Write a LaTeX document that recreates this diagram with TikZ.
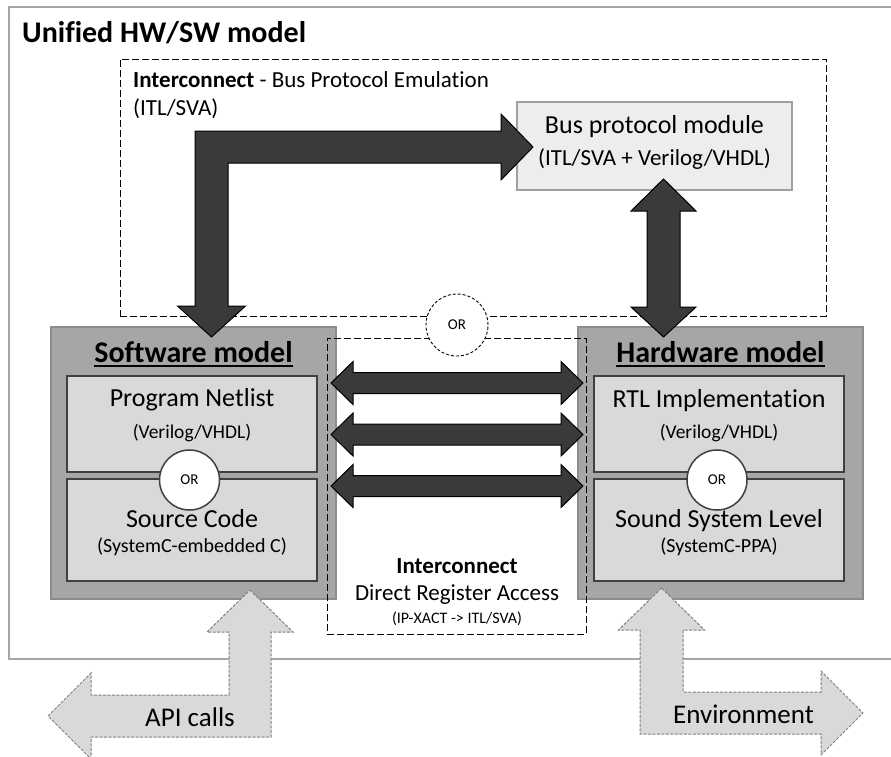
\documentclass[tikz,border=0pt]{standalone}
\usepackage{fontspec}
\setmainfont{Carlito}[Ligatures=NoCommon]
\usetikzlibrary{calc}

\definecolor{framegray}{HTML}{A6A6A6}
\definecolor{modelfill}{HTML}{A6A6A6}
\definecolor{modeledge}{HTML}{8C8C8C}
\definecolor{partfill}{HTML}{D9D9D9}
\definecolor{partedge}{HTML}{404040}
\definecolor{busfill}{HTML}{EDEDED}
\definecolor{busedge}{HTML}{A0A0A0}
\definecolor{arrowdark}{HTML}{3A3A3A}
\definecolor{lightfill}{HTML}{D9D9D9}
\definecolor{lightedge}{HTML}{808080}

\newcommand\fsz[1]{\fontsize{#1}{#1}\selectfont}

\tikzset{
  framebox/.style={draw=framegray, line width=1.5pt},
  dashbox/.style={draw=black, line width=0.9pt, dash pattern=on 7pt off 3pt, inner sep=0},
  modelbox/.style={draw=modeledge, fill=modelfill, line width=1.5pt, inner sep=0,
    minimum width=285pt, minimum height=272pt},
  partbox/.style={draw=partedge, fill=partfill, line width=1.5pt, inner sep=0,
    minimum width=250pt},
  orcircle/.style={circle, draw=partedge, fill=white, line width=1.5pt,
    minimum size=60pt, inner sep=0, font=\fsz{15}},
  orsel/.style={circle, draw=black, fill=white, line width=0.9pt,
    dash pattern=on 3pt off 2pt, minimum size=62pt, inner sep=0, font=\fsz{15}},
  busbox/.style={draw=busedge, fill=busfill, line width=1.5pt, inner sep=0},
  blockarrow/.style={fill=arrowdark, draw=black, line width=1pt, line join=miter},
  lightarrow/.style={fill=lightfill, draw=lightedge, line width=1pt,
    dash pattern=on 3pt off 1.5pt},
  lbl/.style={anchor=base, inner sep=0},
}

\begin{document}
\begin{tikzpicture}[x=1pt, y=-1pt]
\useasboundingbox (0,0) rectangle (891,756);
\clip (0,0) rectangle (891,756);

% outer frame of the unified model
\draw[framebox] (9,7) rectangle (910,659);
\node[lbl, anchor=base west, font=\fsz{30}\bfseries] (title) at (22,42) {Unified HW/SW model};

% bus protocol emulation region
\node[dashbox, minimum width=706pt, minimum height=257pt] (bpe) at (473,187.5) {};
\node[lbl, anchor=base west, font=\fsz{23}] (bpelbl) at (133,87)
  {\textbf{Interconnect} - Bus Protocol Emulation};
\node[lbl, anchor=base west, font=\fsz{23}] (bpelang) at (133,115) {(ITL/SVA)};

% software and hardware models
\node[modelbox] (sw) at (193.5,463) {};
\node[modelbox] (hw) at (720.5,463) {};

\node[partbox, minimum height=96pt] (swA) at (192,424) {};
\node[partbox, minimum height=102pt] (swB) at (192,530) {};
\node[partbox, minimum height=96pt] (hwA) at (719,424) {};
\node[partbox, minimum height=102pt] (hwB) at (719,530) {};

\node[orcircle] (swor) at (189.5,480) {OR};
\node[orcircle] (hwor) at (717,480) {OR};

\node[lbl, font=\fsz{30}\bfseries] (swt) at (193.5,362) {Software model};
\draw[line width=1.8pt] ([yshift=-4pt]swt.base west) -- ([yshift=-4pt]swt.base east);
\node[lbl, font=\fsz{30}\bfseries] (hwt) at (720.5,362) {Hardware model};
\draw[line width=1.8pt] ([yshift=-4pt]hwt.base west) -- ([yshift=-4pt]hwt.base east);

\node[lbl, font=\fsz{26}] (swA1) at (192,406) {Program Netlist};
\node[lbl, font=\fsz{19.5}] (swA2) at (192,438) {(Verilog/VHDL)};
\node[lbl, font=\fsz{26}] (swB1) at (192,527) {Source Code};
\node[lbl, font=\fsz{20}] (swB2) at (192,552) {(SystemC-embedded C)};

\node[lbl, font=\fsz{26}] (hwA1) at (719,407) {RTL Implementation};
\node[lbl, font=\fsz{19.5}] (hwA2) at (719,438) {(Verilog/VHDL)};
\node[lbl, font=\fsz{26}] (hwB1) at (719,527) {Sound System Level};
\node[lbl, font=\fsz{20}] (hwB2) at (719,552) {(SystemC-PPA)};

% direct register access region
\node[dashbox, minimum width=259pt, minimum height=296pt] (dra) at (456.5,486) {};
\node[lbl, font=\fsz{23}\bfseries] (dra1) at (457,573) {Interconnect};
\node[lbl, font=\fsz{23}] (dra2) at (457,600) {Direct Register Access};
\node[lbl, font=\fsz{16}] (dra3) at (457,623) {(IP-XACT -> ITL/SVA)};

% choice between the two interconnects
\node[orsel] (sel) at (457,325) {OR};

% bus protocol module
\node[busbox, minimum width=275pt, minimum height=88pt] (bus) at (654.5,146) {};
\node[lbl, font=\fsz{26}] (bus1) at (654.5,133) {Bus protocol module};
\node[lbl, font=\fsz{23}] (bus2) at (654.5,165) {(ITL/SVA + Verilog/VHDL)};

% bus path: software model -> bus protocol module
\draw[blockarrow] (211.5,337) -- (245.5,306) -- (228,306) -- (228,163) -- (501,163)
  -- (501,180) -- (533,147) -- (501,114) -- (501,131) -- (195,131) -- (195,306)
  -- (177.5,306) -- cycle;

% bus protocol module <-> hardware model
\draw[blockarrow] (663.5,179) -- (696,211) -- (680,211) -- (680,307) -- (696,307)
  -- (663.5,337) -- (631,307) -- (647,307) -- (647,211) -- (631,211) -- cycle;

% direct register links between the models
\foreach \yy in {383,434.5,486}{
  \draw[blockarrow] (331,\yy) -- (353,{\yy-21.5}) -- (353,{\yy-10.5}) -- (561,{\yy-10.5})
    -- (561,{\yy-21.5}) -- (583,\yy) -- (561,{\yy+21.5}) -- (561,{\yy+10.5})
    -- (353,{\yy+10.5}) -- (353,{\yy+21.5}) -- cycle;
}

% external interfaces
\draw[lightarrow] (250,590) -- (293,632) -- (271,632) -- (271,737) -- (91,737)
  -- (91,759) -- (48,716) -- (91,673) -- (91,695) -- (229,695) -- (229,632)
  -- (207,632) -- cycle;
\node[lbl, font=\fsz{27}] (api) at (190,726) {API calls};

\draw[lightarrow] (661.5,588) -- (618.5,630) -- (640,630) -- (640,734) -- (821,734)
  -- (821,755) -- (863,713) -- (821,671) -- (821,692) -- (683,692) -- (683,630)
  -- (704.5,630) -- cycle;
\node[lbl, font=\fsz{27}] (env) at (743.5,723) {Environment};
\end{tikzpicture}
\end{document}
